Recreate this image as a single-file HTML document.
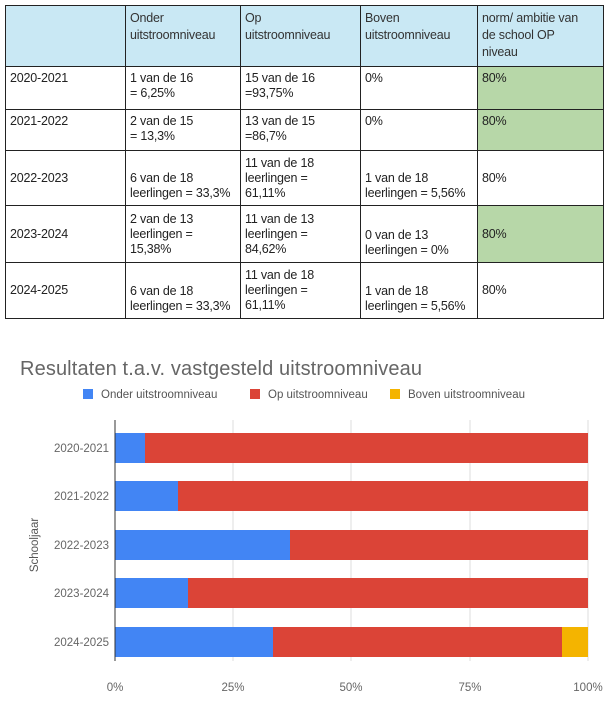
<!DOCTYPE html>
<html><head><style>
body{margin:0;width:614px;height:701px;background:#fff;font-family:"Liberation Sans",Arial,sans-serif;position:relative;overflow:hidden}
table{position:absolute;left:5px;top:5px;border-collapse:collapse;font-size:12.5px;color:#222;letter-spacing:-0.2px}
td{border:1px solid #222;vertical-align:top;padding:4px 4px;line-height:15px;white-space:nowrap}
tr.h td{background:#c9e8f4;color:#333;line-height:17px}
.g{background:#b7d7a8}
.m td{vertical-align:middle}
</style></head><body>
<table>
<colgroup><col style="width:120px"><col style="width:115px"><col style="width:120px"><col style="width:117px"><col style="width:126px"></colgroup>
<tr class="h" style="height:61px"><td></td><td>Onder<br>uitstroomniveau</td><td>Op<br>uitstroomniveau</td><td>Boven<br>uitstroomniveau</td><td>norm/ ambitie van<br>de school OP<br>niveau</td></tr>
<tr style="height:43px"><td>2020-2021</td><td>1 van de 16<br>= 6,25%</td><td>15 van de 16<br>=93,75%</td><td>0%</td><td class="g">80%</td></tr>
<tr style="height:41px"><td>2021-2022</td><td>2 van de 15<br>= 13,3%</td><td>13 van de 15<br>=86,7%</td><td>0%</td><td class="g">80%</td></tr>
<tr class="m" style="height:55px"><td>2022-2023</td><td style="vertical-align:bottom">6 van de 18<br>leerlingen = 33,3%</td><td>11 van de 18<br>leerlingen =<br>61,11%</td><td style="vertical-align:bottom">1 van de 18<br>leerlingen = 5,56%</td><td>80%</td></tr>
<tr class="m" style="height:57px"><td>2023-2024</td><td>2 van de 13<br>leerlingen =<br>15,38%</td><td>11 van de 13<br>leerlingen =<br>84,62%</td><td style="vertical-align:bottom">0 van de 13<br>leerlingen = 0%</td><td class="g">80%</td></tr>
<tr class="m" style="height:56px"><td>2024-2025</td><td style="vertical-align:bottom">6 van de 18<br>leerlingen = 33,3%</td><td>11 van de 18<br>leerlingen =<br>61,11%</td><td style="vertical-align:bottom">1 van de 18<br>leerlingen = 5,56%</td><td>80%</td></tr>
</table>
<svg width="614" height="701" style="position:absolute;left:0;top:0" font-family="Liberation Sans,Arial,sans-serif">
<text x="20" y="375" font-size="20" fill="#666" textLength="402">Resultaten t.a.v. vastgesteld uitstroomniveau</text>
<rect x="83" y="389" width="10" height="10" fill="#4285f4"/><text x="101" y="398" font-size="11.5" fill="#555">Onder uitstroomniveau</text>
<rect x="250" y="389" width="10" height="10" fill="#db4437"/><text x="268" y="398" font-size="11.5" fill="#555">Op uitstroomniveau</text>
<rect x="390" y="389" width="10" height="10" fill="#f4b400"/><text x="408" y="398" font-size="11.5" fill="#555">Boven uitstroomniveau</text>
<g stroke="#ddd"><line x1="233" y1="420" x2="233" y2="661"/><line x1="351" y1="420" x2="351" y2="661"/><line x1="470" y1="420" x2="470" y2="661"/><line x1="588" y1="420" x2="588" y2="661"/></g>
<rect x="115" y="433" width="30" height="30" fill="#4285f4"/><rect x="145" y="433" width="443" height="30" fill="#db4437"/>
<rect x="115" y="481" width="63" height="30" fill="#4285f4"/><rect x="178" y="481" width="410" height="30" fill="#db4437"/>
<rect x="115" y="530" width="175" height="30" fill="#4285f4"/><rect x="290" y="530" width="298" height="30" fill="#db4437"/>
<rect x="115" y="578" width="73" height="30" fill="#4285f4"/><rect x="188" y="578" width="400" height="30" fill="#db4437"/>
<rect x="115" y="627" width="158" height="30" fill="#4285f4"/><rect x="273" y="627" width="289" height="30" fill="#db4437"/><rect x="562" y="627" width="26" height="30" fill="#f4b400"/>
<line x1="115" y1="420" x2="115" y2="661" stroke="#333"/>
<g font-size="11.5" fill="#666" text-anchor="end"><text x="109" y="452">2020-2021</text><text x="109" y="500">2021-2022</text><text x="109" y="549">2022-2023</text><text x="109" y="597">2023-2024</text><text x="109" y="646">2024-2025</text></g>
<g font-size="11.5" fill="#666" text-anchor="middle"><text x="115" y="691">0%</text><text x="233" y="691">25%</text><text x="351" y="691">50%</text><text x="470" y="691">75%</text><text x="588" y="691">100%</text></g>
<text transform="translate(38,545) rotate(-90)" font-size="11.5" fill="#555" text-anchor="middle">Schooljaar</text>
</svg>
</body></html>
